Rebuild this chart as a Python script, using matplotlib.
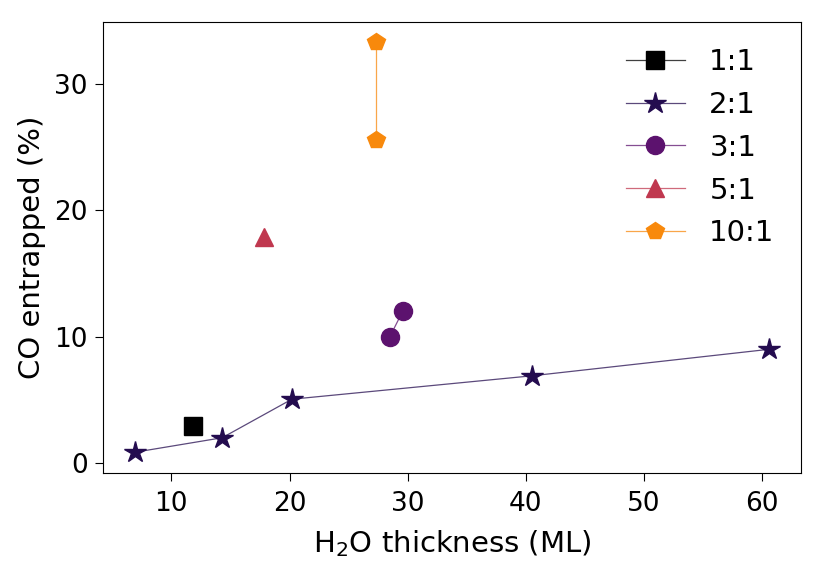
import matplotlib
matplotlib.use("Agg")
import matplotlib.pyplot as plt
from matplotlib.colors import to_rgba

# CO:H2O mixing ratios, water thickness (ML) and entrapped CO (%)
labels = ["1:1", "2:1", "3:1", "5:1", "10:1"]
x_11 = [11.8]
y_11 = [2.95]
x_21 = [6.9, 14.3, 20.2, 40.5, 60.6]
y_21 = [0.85, 2.0, 5.05, 6.9, 9.0]
x_31 = [28.5, 29.6]
y_31 = [10.0, 12.05]
x_51 = [17.8]
y_51 = [17.9]
x_101 = [27.3, 27.3]
y_101 = [25.6, 33.3]

colors = ["#000000", "#240c4f", "#5c126e", "#c0384f", "#f8890c"]
markers = ["s", "*", "o", "^", "p"]
sizes = [13, 16, 13, 13, 13]

plt.rcParams["font.size"] = 19

fig, ax = plt.subplots(figsize=(8.24, 5.71), dpi=100)

series = [(x_11, y_11), (x_21, y_21), (x_31, y_31), (x_51, y_51), (x_101, y_101)]
for (xs, ys), lab, c, m, s in zip(series, labels, colors, markers, sizes):
    ax.plot(xs, ys, color=to_rgba(c, 0.75), marker=m, markersize=s, lw=0.9,
            mfc=c, mec=c, label=lab)

ax.set_xlabel("H$_2$O thickness (ML)", fontsize=21, labelpad=8)
ax.set_ylabel("CO entrapped (%)", fontsize=21, labelpad=6)
ax.set_xticks([10, 20, 30, 40, 50, 60])
ax.set_yticks([0, 10, 20, 30])
ax.tick_params(length=6, pad=5)
ax.tick_params(axis="x", pad=7)
ax.legend(frameon=False, loc="upper right", fontsize=21, handlelength=2.0,
          labelspacing=0.51, handletextpad=0.85)

plt.subplots_adjust(left=0.125, right=0.972, top=0.962, bottom=0.172)
plt.savefig("out.png")
